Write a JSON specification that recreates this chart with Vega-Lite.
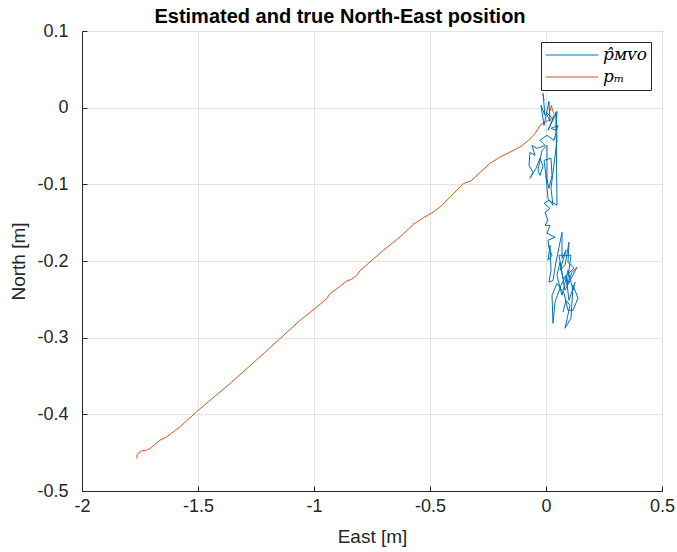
{
  "$schema": "https://vega.github.io/schema/vega-lite/v6.json",
  "autosize": {"type": "none"},
  "width": 580,
  "height": 460,
  "padding": {"left": 82, "top": 31, "right": 15, "bottom": 61},
  "background": "white",
  "title": {
    "text": "Estimated and true North-East position",
    "font": "Liberation Sans",
    "fontSize": 20,
    "fontWeight": "bold",
    "color": "#000000",
    "anchor": "middle",
    "dx": -32,
    "offset": -5
  },
  "config": {
    "font": "Liberation Sans",
    "view": {"stroke": "#262626", "strokeWidth": 1},
    "axis": {
      "labelFont": "Liberation Sans",
      "labelFontSize": 18,
      "labelColor": "#262626",
      "titleFont": "Liberation Sans",
      "titleFontSize": 19,
      "titleFontWeight": "normal",
      "titleColor": "#262626",
      "domainColor": "#262626",
      "tickColor": "#262626",
      "tickSize": -5,
      "gridColor": "#e3e3e3",
      "gridWidth": 1,
      "grid": true
    }
  },
  "data": {
    "values": [
      {"s": "true", "i": 0, "e": -1.764, "n": -0.4576},
      {"s": "true", "i": 1, "e": -1.762, "n": -0.452},
      {"s": "true", "i": 2, "e": -1.743, "n": -0.4477},
      {"s": "true", "i": 3, "e": -1.722, "n": -0.4468},
      {"s": "true", "i": 4, "e": -1.707, "n": -0.4446},
      {"s": "true", "i": 5, "e": -1.664, "n": -0.4338},
      {"s": "true", "i": 6, "e": -1.635, "n": -0.4294},
      {"s": "true", "i": 7, "e": -1.578, "n": -0.4164},
      {"s": "true", "i": 8, "e": -1.499, "n": -0.3947},
      {"s": "true", "i": 9, "e": -1.362, "n": -0.3599},
      {"s": "true", "i": 10, "e": -1.211, "n": -0.319},
      {"s": "true", "i": 11, "e": -1.06, "n": -0.2774},
      {"s": "true", "i": 12, "e": -0.996, "n": -0.2621},
      {"s": "true", "i": 13, "e": -0.945, "n": -0.249},
      {"s": "true", "i": 14, "e": -0.931, "n": -0.2425},
      {"s": "true", "i": 15, "e": -0.895, "n": -0.2347},
      {"s": "true", "i": 16, "e": -0.859, "n": -0.2261},
      {"s": "true", "i": 17, "e": -0.838, "n": -0.2238},
      {"s": "true", "i": 18, "e": -0.816, "n": -0.2186},
      {"s": "true", "i": 19, "e": -0.802, "n": -0.213},
      {"s": "true", "i": 20, "e": -0.78, "n": -0.2069},
      {"s": "true", "i": 21, "e": -0.701, "n": -0.186},
      {"s": "true", "i": 22, "e": -0.629, "n": -0.1687},
      {"s": "true", "i": 23, "e": -0.571, "n": -0.1521},
      {"s": "true", "i": 24, "e": -0.528, "n": -0.1434},
      {"s": "true", "i": 25, "e": -0.485, "n": -0.1361},
      {"s": "true", "i": 26, "e": -0.449, "n": -0.1274},
      {"s": "true", "i": 27, "e": -0.399, "n": -0.1121},
      {"s": "true", "i": 28, "e": -0.356, "n": -0.0991},
      {"s": "true", "i": 29, "e": -0.32, "n": -0.0948},
      {"s": "true", "i": 30, "e": -0.284, "n": -0.0844},
      {"s": "true", "i": 31, "e": -0.241, "n": -0.0726},
      {"s": "true", "i": 32, "e": -0.198, "n": -0.0644},
      {"s": "true", "i": 33, "e": -0.155, "n": -0.0579},
      {"s": "true", "i": 34, "e": -0.112, "n": -0.0514},
      {"s": "true", "i": 35, "e": -0.076, "n": -0.0426},
      {"s": "true", "i": 36, "e": -0.047, "n": -0.0339},
      {"s": "true", "i": 37, "e": -0.026, "n": -0.0231},
      {"s": "true", "i": 38, "e": -0.004, "n": -0.0188},
      {"s": "true", "i": 39, "e": 0.017, "n": -0.0157},
      {"s": "true", "i": 40, "e": 0.031, "n": -0.0131},
      {"s": "true", "i": 41, "e": 0.036, "n": -0.0078},
      {"s": "true", "i": 42, "e": 0.028, "n": -0.004},
      {"s": "true", "i": 43, "e": 0.024, "n": 0.003},
      {"s": "true", "i": 44, "e": 0.018, "n": -0.004},
      {"s": "true", "i": 45, "e": 0.012, "n": -0.006},
      {"s": "est", "i": 0, "e": -0.0086, "n": 0.0095},
      {"s": "est", "i": 1, "e": -0.0129, "n": 0.0186},
      {"s": "est", "i": 2, "e": -0.0043, "n": -0.01},
      {"s": "est", "i": 3, "e": -0.0216, "n": 0.003},
      {"s": "est", "i": 4, "e": -0.0086, "n": -0.0231},
      {"s": "est", "i": 5, "e": 0.0129, "n": 0.0082},
      {"s": "est", "i": 6, "e": 0.0172, "n": -0.0179},
      {"s": "est", "i": 7, "e": 0.0, "n": -0.0061},
      {"s": "est", "i": 8, "e": 0.0302, "n": -0.014},
      {"s": "est", "i": 9, "e": 0.0086, "n": -0.0296},
      {"s": "est", "i": 10, "e": 0.0474, "n": -0.0048},
      {"s": "est", "i": 11, "e": 0.0431, "n": -0.0296},
      {"s": "est", "i": 12, "e": 0.0216, "n": -0.027},
      {"s": "est", "i": 13, "e": 0.0517, "n": -0.0231},
      {"s": "est", "i": 14, "e": 0.0345, "n": -0.0426},
      {"s": "est", "i": 15, "e": 0.0043, "n": -0.0361},
      {"s": "est", "i": 16, "e": -0.0259, "n": -0.0426},
      {"s": "est", "i": 17, "e": -0.0043, "n": -0.0492},
      {"s": "est", "i": 18, "e": -0.0388, "n": -0.0531},
      {"s": "est", "i": 19, "e": -0.0603, "n": -0.0492},
      {"s": "est", "i": 20, "e": -0.0474, "n": -0.0622},
      {"s": "est", "i": 21, "e": -0.069, "n": -0.0583},
      {"s": "est", "i": 22, "e": -0.0733, "n": -0.0752},
      {"s": "est", "i": 23, "e": -0.056, "n": -0.0844},
      {"s": "est", "i": 24, "e": -0.069, "n": -0.0922},
      {"s": "est", "i": 25, "e": -0.0431, "n": -0.0791},
      {"s": "est", "i": 26, "e": -0.0259, "n": -0.0661},
      {"s": "est", "i": 27, "e": -0.0129, "n": -0.0765},
      {"s": "est", "i": 28, "e": -0.0259, "n": -0.0883},
      {"s": "est", "i": 29, "e": -0.0345, "n": -0.0817},
      {"s": "est", "i": 30, "e": -0.0172, "n": -0.0557},
      {"s": "est", "i": 31, "e": 0.0043, "n": -0.0492},
      {"s": "est", "i": 32, "e": 0.0043, "n": -0.0974},
      {"s": "est", "i": 33, "e": -0.0086, "n": -0.0687},
      {"s": "est", "i": 34, "e": 0.0216, "n": -0.0661},
      {"s": "est", "i": 35, "e": 0.0259, "n": -0.0883},
      {"s": "est", "i": 36, "e": 0.0129, "n": -0.1052},
      {"s": "est", "i": 37, "e": 0.0, "n": -0.0883},
      {"s": "est", "i": 38, "e": 0.0086, "n": -0.1183},
      {"s": "est", "i": 39, "e": 0.0302, "n": -0.1274},
      {"s": "est", "i": 40, "e": 0.0216, "n": -0.1052},
      {"s": "est", "i": 41, "e": 0.0474, "n": -0.0426},
      {"s": "est", "i": 42, "e": 0.0431, "n": -0.0061},
      {"s": "est", "i": 43, "e": 0.0474, "n": -0.1274},
      {"s": "est", "i": 44, "e": 0.0129, "n": -0.1209},
      {"s": "est", "i": 45, "e": -0.0086, "n": -0.1248},
      {"s": "est", "i": 46, "e": 0.0172, "n": -0.1313},
      {"s": "est", "i": 47, "e": -0.0043, "n": -0.1365},
      {"s": "est", "i": 48, "e": 0.0086, "n": -0.1469},
      {"s": "est", "i": 49, "e": -0.0043, "n": -0.1535},
      {"s": "est", "i": 50, "e": 0.0172, "n": -0.1535},
      {"s": "est", "i": 51, "e": 0.0043, "n": -0.1639},
      {"s": "est", "i": 52, "e": 0.0388, "n": -0.1691},
      {"s": "est", "i": 53, "e": 0.0086, "n": -0.173},
      {"s": "est", "i": 54, "e": 0.0129, "n": -0.1834},
      {"s": "est", "i": 55, "e": 0.0259, "n": -0.1925},
      {"s": "est", "i": 56, "e": 0.0086, "n": -0.1991},
      {"s": "est", "i": 57, "e": 0.0172, "n": -0.1795},
      {"s": "est", "i": 58, "e": 0.0216, "n": -0.2121},
      {"s": "est", "i": 59, "e": 0.0129, "n": -0.2278},
      {"s": "est", "i": 60, "e": 0.0302, "n": -0.2252},
      {"s": "est", "i": 61, "e": 0.0431, "n": -0.2017},
      {"s": "est", "i": 62, "e": 0.069, "n": -0.1626},
      {"s": "est", "i": 63, "e": 0.069, "n": -0.1965},
      {"s": "est", "i": 64, "e": 0.0862, "n": -0.186},
      {"s": "est", "i": 65, "e": 0.0603, "n": -0.2121},
      {"s": "est", "i": 66, "e": 0.0819, "n": -0.2056},
      {"s": "est", "i": 67, "e": 0.0991, "n": -0.1756},
      {"s": "est", "i": 68, "e": 0.0948, "n": -0.2017},
      {"s": "est", "i": 69, "e": 0.1207, "n": -0.2095},
      {"s": "est", "i": 70, "e": 0.0733, "n": -0.2226},
      {"s": "est", "i": 71, "e": 0.056, "n": -0.1925},
      {"s": "est", "i": 72, "e": 0.1078, "n": -0.1925},
      {"s": "est", "i": 73, "e": 0.0905, "n": -0.2317},
      {"s": "est", "i": 74, "e": 0.1121, "n": -0.2147},
      {"s": "est", "i": 75, "e": 0.1336, "n": -0.2082},
      {"s": "est", "i": 76, "e": 0.0819, "n": -0.2382},
      {"s": "est", "i": 77, "e": 0.0603, "n": -0.2017},
      {"s": "est", "i": 78, "e": 0.0474, "n": -0.2186},
      {"s": "est", "i": 79, "e": 0.069, "n": -0.2447},
      {"s": "est", "i": 80, "e": 0.0948, "n": -0.2121},
      {"s": "est", "i": 81, "e": 0.1164, "n": -0.2382},
      {"s": "est", "i": 82, "e": 0.125, "n": -0.2278},
      {"s": "est", "i": 83, "e": 0.0991, "n": -0.2512},
      {"s": "est", "i": 84, "e": 0.0862, "n": -0.2199},
      {"s": "est", "i": 85, "e": 0.0647, "n": -0.2317},
      {"s": "est", "i": 86, "e": 0.0388, "n": -0.2538},
      {"s": "est", "i": 87, "e": 0.0302, "n": -0.2812},
      {"s": "est", "i": 88, "e": 0.0259, "n": -0.2447},
      {"s": "est", "i": 89, "e": 0.0474, "n": -0.2291},
      {"s": "est", "i": 90, "e": 0.0776, "n": -0.2421},
      {"s": "est", "i": 91, "e": 0.0948, "n": -0.2643},
      {"s": "est", "i": 92, "e": 0.1164, "n": -0.2643},
      {"s": "est", "i": 93, "e": 0.1379, "n": -0.2486},
      {"s": "est", "i": 94, "e": 0.1164, "n": -0.2317},
      {"s": "est", "i": 95, "e": 0.1078, "n": -0.2747},
      {"s": "est", "i": 96, "e": 0.0819, "n": -0.2877},
      {"s": "est", "i": 97, "e": 0.1034, "n": -0.2578},
      {"s": "est", "i": 98, "e": 0.0862, "n": -0.2512},
      {"s": "est", "i": 99, "e": 0.0733, "n": -0.2669}
    ]
  },
  "mark": {"type": "line", "strokeWidth": 1, "clip": true},
  "encoding": {
    "x": {
      "field": "e",
      "type": "quantitative",
      "scale": {"domain": [-2, 0.5], "nice": false, "zero": false},
      "axis": {
        "title": "East [m]",
        "values": [-2, -1.5, -1, -0.5, 0, 0.5],
        "labelExpr": "replace(format(datum.value, '.1~f'), '\u2212', '-')",
        "labelPadding": 11,
        "titlePadding": 12,
        "labelFlush": false
      }
    },
    "y": {
      "field": "n",
      "type": "quantitative",
      "scale": {"domain": [-0.5, 0.1], "nice": false, "zero": false},
      "axis": {
        "title": "North [m]",
        "values": [-0.5, -0.4, -0.3, -0.2, -0.1, 0, 0.1],
        "labelExpr": "replace(format(datum.value, '.1~f'), '\u2212', '-')",
        "labelPadding": 19,
        "titlePadding": 8,
        "labelFlush": false
      }
    },
    "color": {
      "field": "s",
      "type": "nominal",
      "scale": {"domain": ["est", "true"], "range": ["#0072BD", "#D95319"]},
      "legend": {
        "title": null,
        "orient": "top-right",
        "offset": 11,
        "labelExpr": "datum.value == 'est' ? 'p\u0302\u1d0d\u1d20\u1d0f' : 'p\u2098'",
        "labelFont": "DejaVu Serif",
        "labelFontStyle": "italic",
        "labelFontSize": 17,
        "labelColor": "#000000",
        "labelOffset": 4,
        "symbolType": "stroke",
        "symbolSize": 2800,
        "symbolStrokeWidth": 1,
        "clipHeight": 18,
        "strokeColor": "#262626",
        "fillColor": "white",
        "padding": 4,
        "rowPadding": 4,
        "cornerRadius": 0
      }
    },
    "order": {"field": "i", "type": "quantitative"}
  }
}
